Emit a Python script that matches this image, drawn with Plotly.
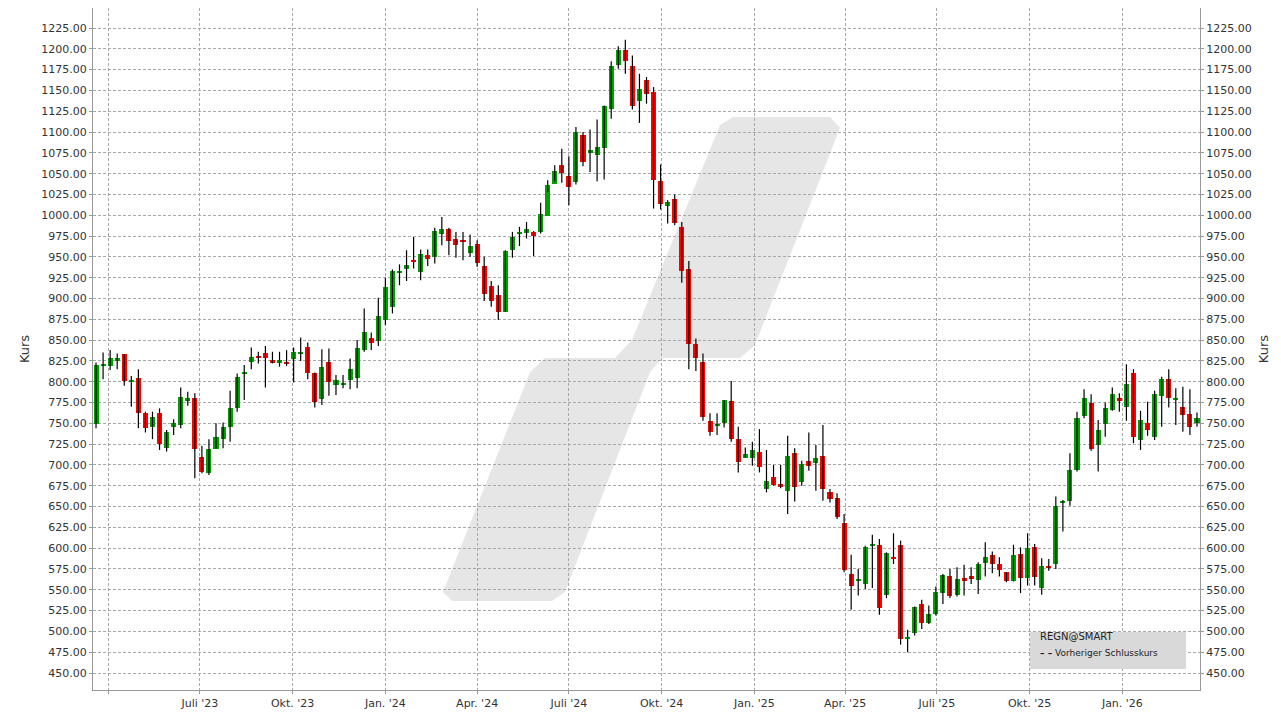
import pandas as pd
import plotly.graph_objects as go

# weekly candles, REGN, starting week of 2023-03-20
opens = [749, 819, 819, 825, 833, 800, 804, 762, 745, 762, 720, 746, 748, 778, 780, 710, 690, 719, 731, 746,
         768, 810, 824, 831, 834, 826, 823, 824, 827, 833, 842, 810, 779, 824, 796, 797, 802, 805, 838, 853,
         849, 874, 890, 931, 936, 946, 932, 952, 950, 978, 983, 971, 970, 955, 965, 939, 915, 904, 884, 958,
         978, 979, 980, 980, 999, 1037, 1060, 1047, 1040, 1097, 1076, 1073, 1081, 1128, 1180, 1199, 1179, 1137, 1162, 1148,
         1041, 1011, 1019, 986, 935, 845, 824, 753, 747, 750, 777, 731, 708, 708, 715, 671, 686, 677, 669, 714,
         680, 705, 702, 711, 668, 660, 630, 569, 560, 557, 603, 604, 544, 589, 604, 492, 498, 533, 510, 521,
         546, 566, 544, 564, 567, 562, 582, 592, 581, 571, 560, 593, 564, 602, 552, 578, 581, 655, 657, 694,
         759, 774, 724, 749, 766, 780, 770, 810, 730, 750, 734, 783, 803, 778, 770, 761, 750]
closes = [820, 821, 828, 829, 801, 801, 762, 744, 758, 725, 740, 750, 782, 780, 719, 692, 719, 734, 746, 768,
          806, 812, 830, 829, 829, 823, 826, 821, 836, 836, 810, 776, 818, 800, 802, 799, 815, 840, 860, 846,
          879, 914, 933, 933, 940, 944, 953, 948, 981, 983, 969, 964, 968, 963, 943, 905, 897, 884, 957, 974,
          980, 984, 975, 1002, 1036, 1053, 1051, 1034, 1100, 1064, 1078, 1082, 1131, 1179, 1199, 1185, 1131, 1152, 1146, 1042,
          1014, 1016, 991, 933, 845, 829, 758, 739, 748, 778, 731, 703, 713, 718, 698, 681, 676, 674, 711, 674,
          701, 699, 708, 671, 659, 638, 574, 555, 563, 602, 605, 528, 594, 587, 491, 493, 529, 510, 521, 547,
          568, 543, 563, 560, 563, 581, 589, 581, 574, 561, 592, 564, 600, 565, 578, 577, 651, 657, 694, 756,
          780, 719, 742, 769, 785, 777, 797, 734, 754, 742, 785, 803, 780, 781, 760, 745, 757]
highs = [823, 835, 838, 834, 833, 807, 815, 764, 764, 768, 742, 755, 793, 788, 786, 723, 731, 750, 751, 789,
         810, 820, 841, 836, 843, 836, 836, 838, 841, 853, 847, 811, 839, 840, 808, 808, 828, 850, 888, 859,
         901, 925, 935, 941, 958, 974, 959, 959, 985, 998, 985, 980, 980, 977, 970, 950, 921, 916, 958, 980,
         986, 992, 981, 1015, 1042, 1060, 1080, 1071, 1106, 1100, 1103, 1115, 1132, 1185, 1203, 1211, 1192, 1170, 1166, 1154,
         1061, 1018, 1025, 992, 945, 852, 834, 762, 762, 778, 801, 746, 721, 728, 743, 718, 700, 700, 735, 720,
         705, 739, 724, 748, 671, 666, 641, 592, 575, 603, 616, 611, 595, 618, 609, 502, 530, 538, 531, 554,
         569, 575, 577, 580, 577, 583, 607, 596, 589, 571, 604, 601, 618, 605, 588, 587, 662, 658, 714, 764,
         791, 785, 754, 775, 793, 786, 821, 815, 765, 776, 789, 806, 815, 792, 794, 791, 763]
lows = [744, 803, 814, 815, 795, 770, 744, 739, 731, 718, 716, 736, 744, 771, 684, 690, 688, 720, 720, 728,
        764, 778, 815, 822, 793, 822, 818, 819, 799, 825, 803, 769, 772, 783, 784, 792, 791, 792, 836, 838,
        843, 868, 882, 916, 921, 936, 922, 939, 942, 964, 952, 949, 946, 950, 938, 897, 890, 874, 884, 949,
        963, 972, 951, 978, 1028, 1041, 1039, 1012, 1037, 1059, 1052, 1041, 1043, 1116, 1176, 1170, 1127, 1111, 1134, 1008,
        1007, 990, 988, 919, 815, 813, 753, 735, 736, 745, 728, 691, 709, 699, 691, 667, 675, 672, 641, 656,
        675, 693, 669, 657, 655, 635, 571, 526, 543, 551, 552, 520, 540, 581, 484, 475, 495, 503, 509, 519,
        533, 540, 542, 543, 557, 545, 566, 570, 566, 559, 560, 546, 555, 555, 544, 573, 575, 620, 651, 692,
        756, 717, 692, 734, 765, 764, 753, 726, 718, 735, 730, 746, 769, 748, 740, 736, 746]

dates = pd.date_range("2023-03-20", periods=len(opens), freq="7D")

up_col = "#00a000"
down_col = "#ff0000"

wx, wy = [], []
for d, h, l in zip(dates, highs, lows):
    wx += [d, d, None]
    wy += [l, h, None]

base = [min(o, c) for o, c in zip(opens, closes)]
height = [max(abs(c - o), 1.5) for o, c in zip(opens, closes)]
colors = [up_col if c >= o else down_col for o, c in zip(opens, closes)]

fig = go.Figure()
fig.add_trace(go.Scatter(x=wx, y=wy, mode="lines", line=dict(color="black", width=1.2),
                         hoverinfo="skip", showlegend=False))
fig.add_trace(go.Bar(x=dates, y=height, base=base, marker=dict(color=colors, line=dict(width=0)),
                     width=5 * 24 * 3600 * 1000, showlegend=False))
fig.add_trace(go.Scatter(x=dates, y=closes, yaxis="y2", mode="lines", opacity=0,
                         hoverinfo="skip", showlegend=False))

# page shows the figure offset by the 8px body margin
OFF = 8
L, R, T, B = 93, 1200, 8, 690
W = R - L
H = B - T
FW, FH = 1273, 711


def px(x, y):
    return (x - L) / W, (B - y) / H


# watermark logo (pixel coords -> paper)
pts = [(443, 592), (530, 372), (545, 358), (615, 358), (632, 340), (720, 125), (733, 117),
       (830, 117), (840, 128), (755, 345), (740, 358), (662, 358), (650, 372), (565, 592), (552, 601), (452, 601)]
path = "M " + " L ".join(f"{px(a, b)[0]:.4f},{px(a, b)[1]:.4f}" for a, b in pts) + " Z"

grid = dict(showgrid=True, gridcolor="#a8a8a8", griddash="3px,2px", gridwidth=1)
yticks = [450 + 25 * i for i in range(32)]
yrange = [450 - (B - 673) * 1.2016, 1225 + (28 - T) * 1.2016]

fig.update_layout(
    width=FW, height=FH,
    margin=dict(l=L - OFF, r=FW - (R - OFF), t=T - OFF, b=FH - (B - OFF)),
    paper_bgcolor="white", plot_bgcolor="white",
    font=dict(family="DejaVu Sans", size=11, color="#333333"),
    bargap=0,
    hovermode=False,
    shapes=[
        dict(type="path", xref="paper", yref="paper", path=path, fillcolor="#e6e6e6",
             line=dict(width=0), layer="below"),
        dict(type="rect", xref="paper", yref="paper", x0=px(1030, 0)[0], x1=px(1186, 0)[0],
             y0=px(0, 669)[1], y1=px(0, 632)[1], fillcolor="#d9d9d9", line=dict(width=0)),
    ],
    annotations=[
        dict(xref="paper", yref="paper", x=px(1038, 0)[0], y=px(0, 644)[1], text="REGN@SMART",
             showarrow=False, xanchor="left", font=dict(size=10, color="#222222")),
        dict(xref="paper", yref="paper", x=px(1038, 0)[0], y=px(0, 660)[1],
             text="<b>– –</b> Vorheriger Schlusskurs",
             showarrow=False, xanchor="left", font=dict(size=9, color="#222222")),
    ],
    xaxis=dict(
        range=[dates[0] - pd.Timedelta(days=3), dates[-1] + pd.Timedelta(days=3)],
        tickvals=pd.to_datetime(["2023-04-01", "2023-07-01", "2023-10-01", "2024-01-01", "2024-04-01",
                                 "2024-07-01", "2024-10-01", "2025-01-01", "2025-04-01", "2025-07-01",
                                 "2025-10-01", "2026-01-01"]),
        ticktext=["", "Juli '23", "Okt. '23", "Jan. '24", "Apr. '24", "Juli '24", "Okt. '24", "Jan. '25",
                  "Apr. '25", "Juli '25", "Okt. '25", "Jan. '26"],
        showline=True, linecolor="#999999", mirror=True, zeroline=False,
        ticks="outside", ticklen=3, tickcolor="#999999", automargin=False, **grid,
    ),
    yaxis=dict(
        range=yrange, tickvals=yticks, tickformat=".2f", automargin=False,
        showline=True, linecolor="#999999", mirror=True, zeroline=False,
        ticks="outside", ticklen=3, tickcolor="#999999",
        title=dict(text="Kurs", standoff=8), **grid,
    ),
    yaxis2=dict(
        overlaying="y", side="right", range=yrange, tickvals=yticks, automargin=False,
        tickformat=".2f", showgrid=False, zeroline=False,
        ticks="outside", ticklen=3, tickcolor="#999999",
        title=dict(text="Kurs", standoff=8),
    ),
)

fig.write_html("out.html")
